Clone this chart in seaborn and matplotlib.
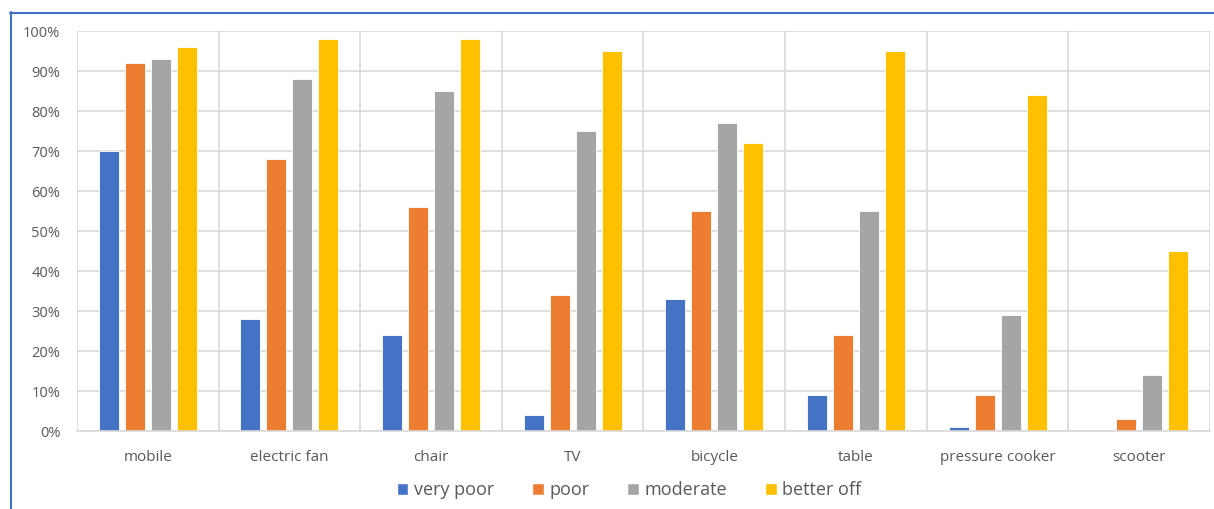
import pandas as pd
import matplotlib.pyplot as plt
import seaborn as sns
from matplotlib.patches import Patch
from matplotlib.lines import Line2D
from matplotlib.ticker import PercentFormatter

# data
items = ["mobile", "electric fan", "chair", "TV", "bicycle", "table",
         "pressure cooker", "scooter"]
groups = ["very poor", "poor", "moderate", "better off"]
very_poor = [70, 28, 24, 4, 33, 9, 1, 0]
poor = [92, 68, 56, 34, 55, 24, 9, 3]
moderate = [93, 88, 85, 75, 77, 55, 29, 14]
better_off = [96, 98, 98, 95, 72, 95, 84, 45]
colors = ["#4472C4", "#ED7D31", "#A5A5A5", "#FFC000"]

rows = []
for g, vals in zip(groups, [very_poor, poor, moderate, better_off]):
    for item, v in zip(items, vals):
        rows.append({"item": item, "group": g, "share": v})
df = pd.DataFrame(rows)

sns.set_style("white")
plt.rcParams["font.family"] = ["Open Sans", "DejaVu Sans"]

fig = plt.figure(figsize=(12.14, 5.09), dpi=100)
ax = fig.add_axes([0.0634, 0.1532, 0.9333, 0.7858])

sns.barplot(data=df, x="item", y="share", hue="group", order=items,
            hue_order=groups, palette=colors, width=0.734, gap=0.23,
            edgecolor="white", linewidth=0.6, saturation=1, legend=False, ax=ax)

ax.set_xlim(-0.5, len(items) - 0.5)
ax.set_ylim(0, 100)
ax.set_yticks(range(0, 101, 10))
ax.yaxis.set_major_formatter(PercentFormatter(decimals=0))
ax.set_xticks(range(len(items)))
ax.set_xticklabels(items)
ax.set_xlabel("")
ax.set_ylabel("")

# gridlines: horizontal every 10%, vertical between categories
ax.set_axisbelow(True)
ax.grid(axis="y", color="#D9D9D9", linewidth=1.2)
for b in [i - 0.5 for i in range(len(items) + 1)]:
    ax.axvline(b, color="#D9D9D9", linewidth=1.2, zorder=0)
for s in ["top", "right", "left"]:
    ax.spines[s].set_visible(False)
ax.spines["bottom"].set_color("#D9D9D9")
ax.spines["bottom"].set_linewidth(1.2)
ax.tick_params(axis="both", length=0, colors="#595959")
ax.tick_params(axis="x", pad=14, labelsize=11)
ax.tick_params(axis="y", pad=12, labelsize=10.5)

handles = [Patch(facecolor=c, label=g) for c, g in zip(colors, groups)]
fig.legend(handles=handles, loc="center", bbox_to_anchor=(0.518, 0.037),
           ncol=4, frameon=False, fontsize=13, handlelength=0.65,
           handleheight=0.65, handletextpad=0.3, columnspacing=2.1,
           labelcolor="#595959")

# blue frame of the cropped screenshot
fig.add_artist(Line2D([10.5 / 1214, 10.5 / 1214], [0, 1 - 12 / 509],
                      color="#4472C4", linewidth=1.5))
fig.add_artist(Line2D([10 / 1214, 1], [1 - 12.5 / 509, 1 - 12.5 / 509],
                      color="#4472C4", linewidth=1.5))

fig.savefig("out.png", dpi=100)
